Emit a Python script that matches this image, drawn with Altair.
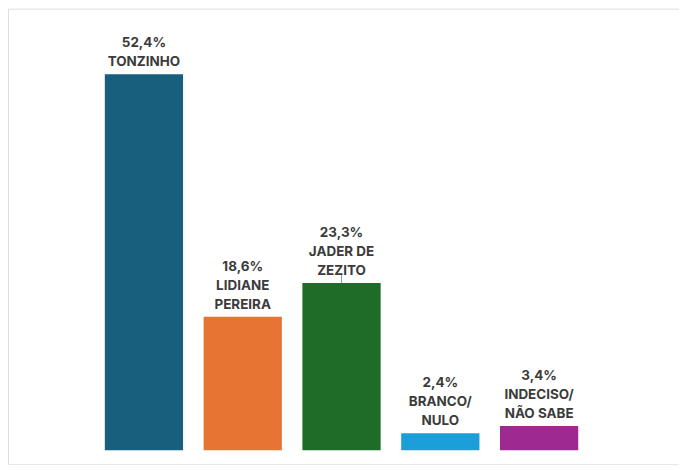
import altair as alt
import pandas as pd

categories = ["TONZINHO", "LIDIANE PEREIRA", "JADER DE ZEZITO", "BRANCO/ NULO", "INDECISO/ NÃO SABE"]
values = [52.4, 18.6, 23.3, 2.4, 3.4]
value_labels = ["52,4%", "18,6%", "23,3%", "2,4%", "3,4%"]
name_lines = [["TONZINHO"], ["LIDIANE", "PEREIRA"], ["JADER DE", "ZEZITO"], ["BRANCO/", "NULO"], ["INDECISO/", "NÃO SABE"]]
colors = ["#185f7e", "#e87433", "#1f6b28", "#1a9fd9", "#9c2a91"]

df = pd.DataFrame({
    "cat": categories,
    "value": values,
    "has_tick": [False, False, True, False, False],
})

# one row per label line, k counted from the bottom line (0) upward
rows = []
for c, v, vl, nl in zip(categories, values, value_labels, name_lines):
    lines = [vl] + nl
    for k, t in enumerate(reversed(lines)):
        rows.append({"cat": c, "value": v, "text": t, "k": k})
lab = pd.DataFrame(rows)

W, H = 673, 457
y_scale = alt.Scale(domain=[0, 60], range=[443, 443 - 60 * 7.2], nice=False, zero=False)
x_enc = alt.X("cat:N", sort=categories, axis=None,
              scale=alt.Scale(paddingInner=0.208, paddingOuter=1, align=0.49))

bars = alt.Chart(df).mark_bar().encode(
    x=x_enc,
    y=alt.Y("value:Q", scale=y_scale, axis=None),
    y2=alt.datum(0),
    color=alt.Color("cat:N", sort=categories, scale=alt.Scale(domain=categories, range=colors), legend=None),
)

tick = alt.Chart(df).transform_filter("datum.has_tick").transform_calculate(
    top="datum.value + 1.3"
).mark_rule(color="#9a9a9a", strokeWidth=1).encode(
    x=x_enc,
    y=alt.Y("value:Q", scale=y_scale),
    y2="top:Q",
)

text_layers = []
for k in range(3):
    text_layers.append(
        alt.Chart(lab).transform_filter(f"datum.k == {k}").mark_text(
            baseline="bottom", align="center", dy=-5 - 19 * k, fontSize=13.5,
            fontWeight="bold", font="Inter", color="#3b3b3b",
        ).encode(
            x=x_enc,
            y=alt.Y("value:Q", scale=y_scale),
            text="text:N",
        )
    )

chart = alt.layer(bars, tick, *text_layers).properties(
    width=W, height=H, padding=0,
    autosize=alt.AutoSizeParams(type="none"),
).configure_view(stroke="#dcdcdc", strokeWidth=1.5).configure(background="white")

chart.save("out.html", embed_options={"renderer": "svg", "actions": False})
